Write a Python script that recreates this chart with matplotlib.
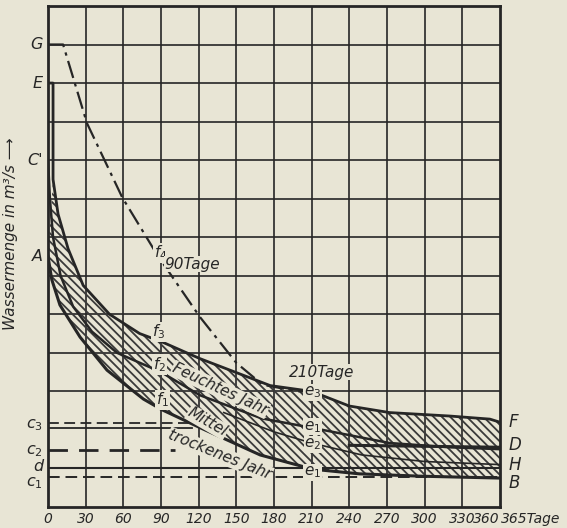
import matplotlib
matplotlib.use("Agg")
import matplotlib.pyplot as plt

# Dauerlinien: Tage (Unterschreitungsdauer) gegen Wassermenge (Rasterteilungen)
wet_days = [0, 4, 4, 8, 16, 28, 49, 73, 91, 121, 153, 177, 210, 240, 272, 320, 352, 360]
wet_q = [11.0, 11.0, 8.5, 7.6, 6.7, 5.75, 5.0, 4.5, 4.28, 3.85, 3.45, 3.15, 3.0, 2.62, 2.45, 2.36, 2.28, 2.2]

mean_days = [0, 1.5, 4, 10, 20, 35, 55, 90, 121, 170, 211, 272, 320, 360]
mean_q = [9.0, 8.0, 7.0, 6.0, 5.2, 4.55, 4.0, 3.5, 2.9, 2.3, 2.05, 1.66, 1.55, 1.5]

dry_days = [0, 3, 9.5, 25.5, 47, 76, 91, 121, 169, 211, 248, 296, 360]
dry_q = [6.5, 5.9, 5.24, 4.41, 3.55, 2.8, 2.52, 2.06, 1.35, 0.98, 0.86, 0.8, 0.75]

h_days = [140, 180, 210, 250, 300, 360]
h_q = [2.45, 1.95, 1.66, 1.35, 1.18, 1.1]

dur90_days = [0, 12, 31, 59, 87, 121, 150, 171, 200, 215]
dur90_q = [12.0, 12.0, 9.96, 8.04, 6.54, 4.93, 3.74, 3.17, 3.0, 2.98]

# waagerechte Bezugslinien
c3_dash, c3_solid, c2, d_level, c1 = 2.18, 2.05, 1.48, 1.01, 0.78
c3_end, c2_end = 121, 101

x_ticks = [0, 30, 60, 90, 120, 150, 180, 210, 240, 270, 300, 330, 360]
left_marks = [("G", 12.0), ("E", 11.0), ("C'", 9.0), ("A", 6.5),
              ("c$_3$", 2.12), ("c$_2$", 1.45), ("d", 1.06), ("c$_1$", 0.62)]
right_marks = [("F", 2.2), ("D", 1.6), ("H", 1.1), ("B", 0.62)]

paper = "#e8e5d5"
ink = "#262626"
font = ["Liberation Sans Narrow", "DejaVu Sans"]
plt.rcParams["font.family"] = font
plt.rcParams["mathtext.fontset"] = "custom"
plt.rcParams["mathtext.it"] = "DejaVu Sans:italic"
plt.rcParams["hatch.linewidth"] = 1.3
plt.rcParams["hatch.color"] = "#3a3a3a"

fig = plt.figure(figsize=(5.67, 5.28), dpi=100, facecolor=paper)
ax = fig.add_axes([0.0847, 0.0398, 0.797, 0.9489])
ax.set_facecolor(paper)
ax.set_xlim(0, 360)
ax.set_ylim(0, 13)

# Raster
for x in x_ticks[1:-1]:
    ax.axvline(x, color=ink, lw=1.2, zorder=1)
for y in range(3, 13):
    ax.axhline(y, color=ink, lw=1.2, zorder=1)
for s in ax.spines.values():
    s.set_color(ink)
    s.set_linewidth(2.0)
ax.set_xticks([])
ax.set_yticks([])

# schraffiertes Band zwischen feuchtem und trockenem Jahr
poly_x = list(wet_days[2:]) + list(dry_days[::-1])
poly_y = list(wet_q[2:]) + list(dry_q[::-1])
ax.fill(poly_x, poly_y, facecolor="none", edgecolor="#3a3a3a", hatch="\\\\\\\\", lw=0, zorder=2)

ax.plot(wet_days, wet_q, color=ink, lw=2.0, zorder=4)
ax.plot(mean_days, mean_q, color=ink, lw=1.8, zorder=4)
ax.plot(dry_days, dry_q, color=ink, lw=2.2, zorder=4)
ax.plot(h_days, h_q, color=ink, lw=1.2, zorder=4)
ax.plot(dur90_days, dur90_q, color=ink, lw=1.6, ls=(0, (8, 2.5, 1.5, 2.5)), zorder=4)

ax.plot([0, c3_end], [c3_dash, c3_dash], color=ink, lw=1.3, ls=(0, (6, 3)), zorder=3)
ax.plot([0, c3_end - 6], [c3_solid, c3_solid], color=ink, lw=1.3, zorder=3)
ax.plot([0, c2_end], [c2, c2], color=ink, lw=2.0, ls=(0, (7, 4)), zorder=3)
ax.plot([0, 360], [d_level, d_level], color=ink, lw=1.5, zorder=3)
ax.plot([0, 360], [c1, c1], color=ink, lw=1.4, ls=(0, (6, 3)), zorder=3)
ax.plot([240, 360], [1.6, 1.55], color=ink, lw=2.2, zorder=4)

txt = dict(color=ink, style="italic", family=font)

for label, y in left_marks:
    ax.text(-4, y, label, ha="right", va="center", fontsize=11.5, clip_on=False, **txt)
for label, y in right_marks:
    ax.text(367, y, label, ha="left", va="center", fontsize=12, clip_on=False, **txt)

for x in x_ticks[:-1]:
    ax.text(x, -0.12, str(x), ha="center", va="top", fontsize=10, clip_on=False, **txt)
ax.text(360, -0.12, "360", ha="right", va="top", fontsize=10, clip_on=False, **txt)
ax.text(361, -0.12, "365Tage", ha="left", va="top", fontsize=10, clip_on=False, **txt)

ax.text(-30, 7.1, "Wassermenge in m³/s ⟶", rotation=90, ha="center", va="center",
        fontsize=11, clip_on=False, **txt)

# Kurvenbeschriftungen
bg = dict(facecolor=paper, edgecolor="none", pad=0.5)
ax.text(90, 6.6, "f$_4$", fontsize=11, ha="center", va="center", bbox=bg, zorder=6, **txt)
ax.text(115, 6.3, "90Tage", fontsize=11, ha="center", va="center", bbox=bg, zorder=6, **txt)
ax.text(218, 3.5, "210Tage", fontsize=11, ha="center", va="center", bbox=bg, zorder=6, **txt)
ax.text(88, 4.55, "f$_3$", fontsize=11, ha="center", va="center", bbox=bg, zorder=6, **txt)
ax.text(89, 3.7, "f$_2$", fontsize=11, ha="center", va="center", bbox=bg, zorder=6, **txt)
ax.text(91, 2.78, "f$_1$", fontsize=11, ha="center", va="center", bbox=bg, zorder=6, **txt)
for label, y in [("e$_3$", 2.98), ("e$_1$", 2.08), ("e$_2$", 1.62), ("e$_1$", 0.9)]:
    ax.text(211, y, label, fontsize=11, ha="center", va="center", bbox=bg, zorder=6, **txt)

ax.text(137, 3.05, "Feuchtes Jahr", fontsize=11, rotation=-25, ha="center", va="center",
        bbox=bg, zorder=6, **txt)
ax.text(127, 2.2, "Mittel", fontsize=11, rotation=-30, ha="center", va="center",
        bbox=bg, zorder=6, **txt)
ax.text(137, 1.35, "trockenes Jahr", fontsize=11, rotation=-22, ha="center", va="center",
        bbox=bg, zorder=6, **txt)

fig.savefig("out.png", dpi=100, facecolor=paper)
